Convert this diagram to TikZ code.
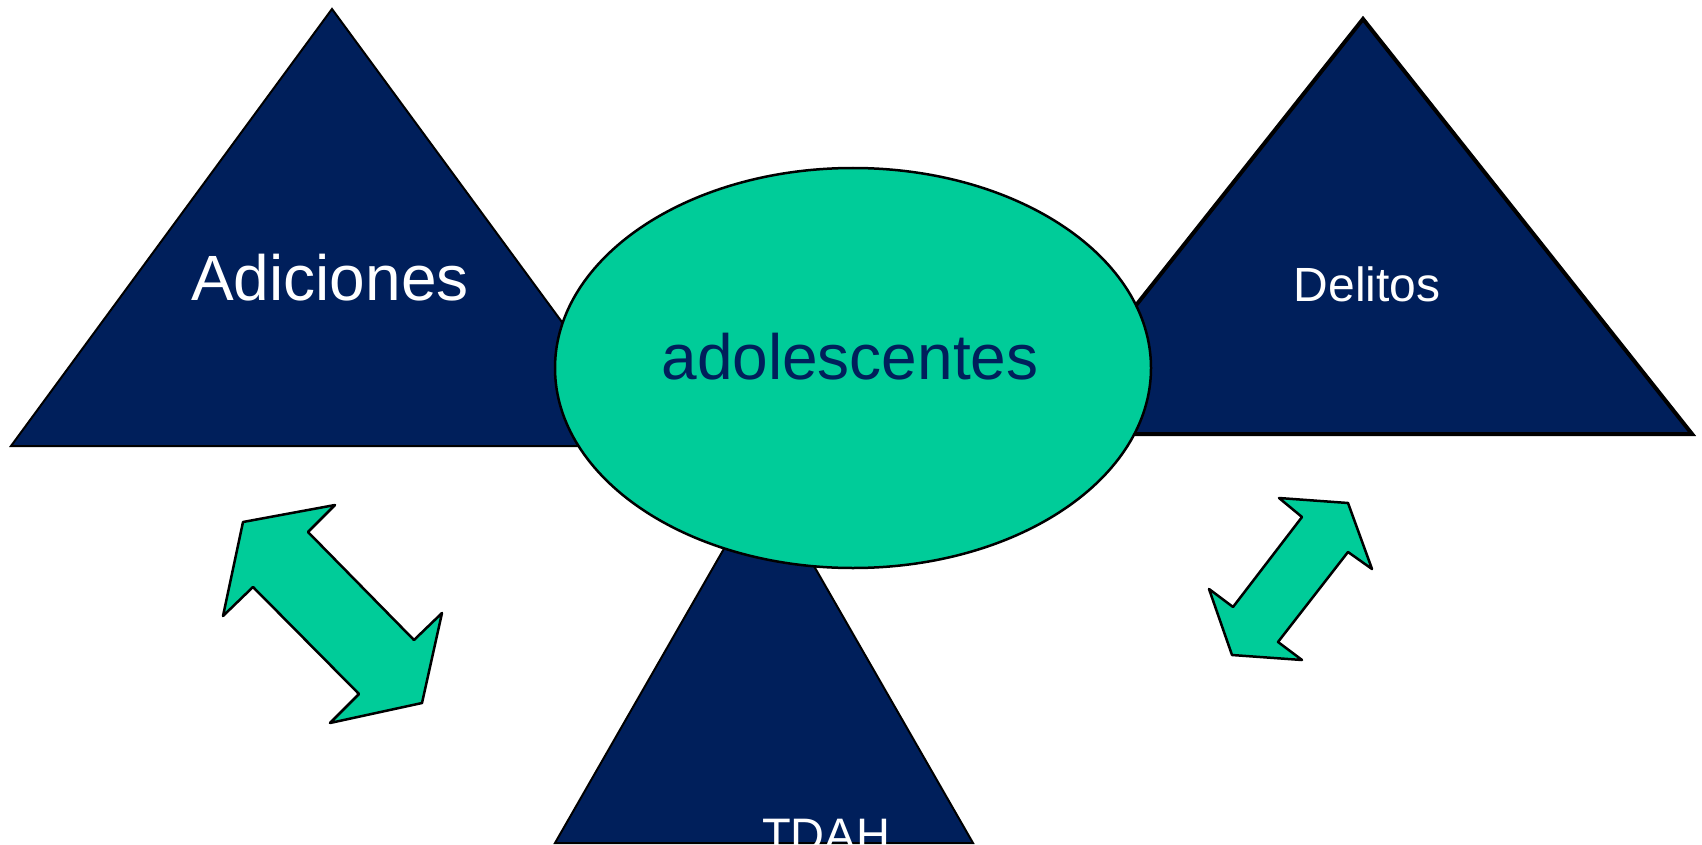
\documentclass[tikz,border=0pt]{standalone}
\usepackage{fontspec}
\setmainfont{Liberation Sans}
\definecolor{navy}{RGB}{0,31,91}
\definecolor{mint}{RGB}{0,204,153}
\tikzset{
  tri/.style={fill=navy,draw=black,line width=2pt,line join=miter},
  trithick/.style={fill=navy,draw=black,line width=4pt,line join=miter},
  oval/.style={fill=mint,draw=black,line width=2.5pt},
  dblarrow/.style={fill=mint,draw=black,line width=2.5pt,line join=round},
  lbl/.style={text=white,anchor=base,inner sep=0pt},
}
\begin{document}
\begin{tikzpicture}[x=1pt,y=-1pt]
\useasboundingbox (0,0) rectangle (1702,845);
\clip (0,0) rectangle (1702,845);
% triangles
\draw[tri] (332,9) -- (653,446) -- (11,446) -- cycle;
\draw[trithick] (1363,19) -- (1692,434) -- (1034,434) -- cycle;
\draw[tri] (764,479) -- (973,843) -- (555,843) -- cycle;
% ellipse
\draw[oval] (853,368) ellipse [x radius=298, y radius=200];
% arrows
\draw[dblarrow] (243,522) -- (335,505) -- (308,532) -- (414,640) -- (442,613)
  -- (422,703) -- (330,723) -- (359,694) -- (253,587) -- (223,616) -- cycle;
\draw[dblarrow] (1348,503) -- (1372,569) -- (1348,552) -- (1278,642) -- (1302,660)
  -- (1232,655) -- (1209,589) -- (1233,607) -- (1302,517) -- (1279,498) -- cycle;
% labels
\node[lbl,font=\fontsize{64}{70}\selectfont] (adic) at (330,300) {Adiciones};
\node[lbl,font=\fontsize{48}{54}\selectfont] (deli) at (1367,301) {Delitos};
\node[lbl,font=\fontsize{64}{70}\selectfont,text=navy] (adol) at (850,379) {adolescentes};
\node[lbl,font=\fontsize{47}{54}\selectfont] (tdah) at (826,851) {TDAH};
\end{tikzpicture}
\end{document}
